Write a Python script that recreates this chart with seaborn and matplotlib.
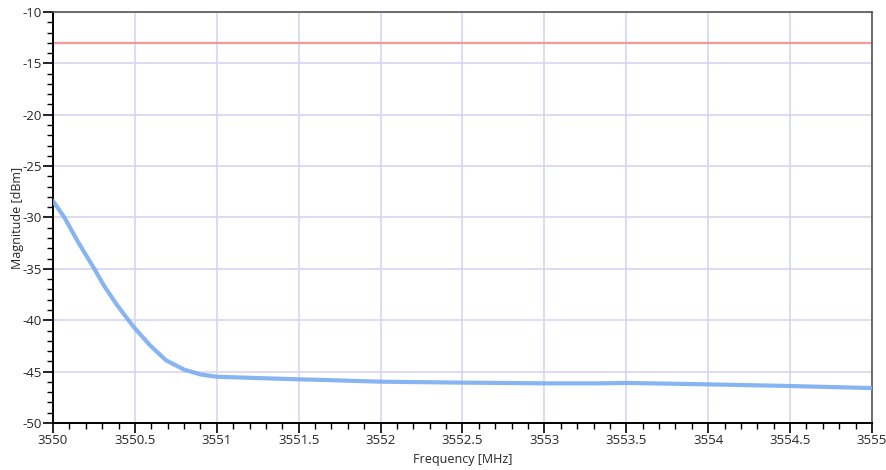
import pandas as pd
import seaborn as sns
import matplotlib.pyplot as plt
from matplotlib.ticker import MultipleLocator, FuncFormatter

# values
freq_mhz = [3550.0, 3550.07, 3550.15, 3550.26, 3550.31, 3550.39, 3550.49,
            3550.59, 3550.69, 3550.8, 3550.9, 3551.0, 3551.2, 3551.5,
            3551.63, 3552.0, 3552.5, 3553.0, 3553.34, 3553.5,
            3554.0, 3554.5, 3555.0]
magnitude_dbm = [-28.4, -30.0, -32.3, -35.2, -36.6, -38.5, -40.6,
                 -42.4, -43.9, -44.8, -45.27, -45.5, -45.6, -45.75,
                 -45.8, -45.98, -46.07, -46.14, -46.14, -46.1,
                 -46.24, -46.4, -46.6]
limit_dbm = -13.0


def main():
    sns.set_theme(style='white')
    plt.rcParams['font.family'] = ['Open Sans', 'DejaVu Sans']
    plt.rcParams['axes.unicode_minus'] = False

    data = pd.DataFrame({'Frequency': freq_mhz, 'Magnitude': magnitude_dbm})

    fig = plt.figure(figsize=(8.86, 4.70), dpi=100)
    ax = fig.add_axes([0.0598, 0.1, 0.9244, 0.8745])

    ax.grid(True, which='major', color='#d6d6f4', linewidth=1.2)
    ax.axhline(limit_dbm, color='#f29a9a', linewidth=1.6, zorder=2)
    sns.lineplot(x='Frequency', y='Magnitude', data=data, ax=ax,
                 color='#79adf0', linewidth=3.0, alpha=0.9, zorder=3)

    ax.set_xlim(3550, 3555)
    ax.set_ylim(-50, -10)
    ax.xaxis.set_major_locator(MultipleLocator(0.5))
    ax.xaxis.set_minor_locator(MultipleLocator(0.1))
    ax.yaxis.set_major_locator(MultipleLocator(5))
    ax.yaxis.set_minor_locator(MultipleLocator(1))
    ax.xaxis.set_major_formatter(FuncFormatter(lambda v, p: '%g' % v))
    ax.yaxis.set_major_formatter(FuncFormatter(lambda v, p: '%g' % v))

    ax.tick_params(which='major', direction='out', length=7, width=1.2,
                   color='black', labelsize=9.5, pad=1,
                   bottom=True, left=True)
    ax.tick_params(which='minor', direction='out', length=4, width=1.0,
                   color='black', bottom=True, left=True)
    ax.set_xlabel('Frequency [MHz]', fontsize=9, labelpad=4)
    ax.set_ylabel('Magnitude [dBm]', fontsize=9, labelpad=-1.5)

    for side in ['left', 'bottom']:
        ax.spines[side].set_color('black')
        ax.spines[side].set_linewidth(1.4)
    for side in ['top', 'right']:
        ax.spines[side].set_color('#555555')
        ax.spines[side].set_linewidth(1.2)

    plt.savefig('out.png', dpi=100)


if __name__ == '__main__':
    main()
